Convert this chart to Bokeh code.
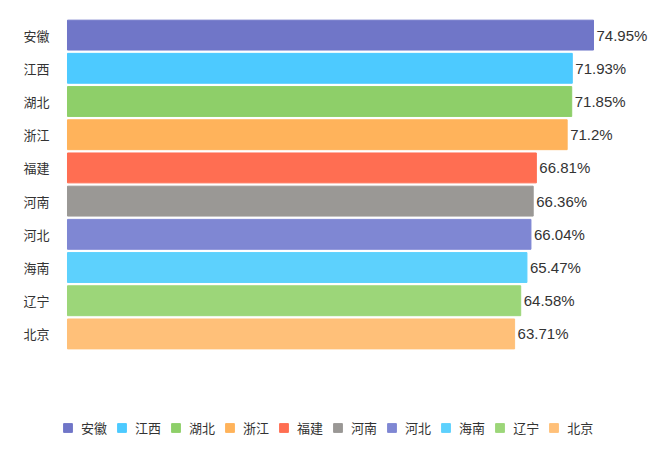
from bokeh.plotting import figure
from bokeh.models import ColumnDataSource, Range1d, FixedTicker, Legend, LegendItem
from bokeh.core.properties import value
from bokeh.embed import file_html
from bokeh.resources import INLINE

provinces = ["安徽", "江西", "湖北", "浙江", "福建", "河南", "河北", "海南", "辽宁", "北京"]
rates = [74.95, 71.93, 71.85, 71.2, 66.81, 66.36, 66.04, 65.47, 64.58, 63.71]
colors = ["#7076C8", "#4DCAFF", "#8ECF69", "#FFB35B", "#FF6E52",
          "#9A9895", "#7F87D3", "#5DD1FD", "#9CD679", "#FFC079"]
labels = [f"{v}%" for v in rates]
pos = list(range(len(provinces)))

src = ColumnDataSource(dict(name=provinces, y=pos, v=rates, c=colors, lab=labels))

W, H = 652, 447
p = figure(width=W, height=H, output_backend="svg", toolbar_location=None,
           x_range=Range1d(-0.712, 83.36), y_range=Range1d(12.42, -0.5),
           min_border_left=62, min_border_right=0, min_border_top=18, min_border_bottom=0)
p.background_fill_color = "white"
p.border_fill_color = "white"
p.outline_line_color = None
p.xgrid.visible = False
p.ygrid.visible = False
p.xaxis.visible = False

r = p.hbar(y="y", right="v", left=0, height=0.9, color="c", source=src)
p.text(x="v", y="y", text="lab", source=src, x_offset=3, text_baseline="middle",
       text_font=value("Liberation Sans"), text_font_size="15px", text_color="#333333")

ya = p.yaxis[0]
ya.ticker = FixedTicker(ticks=pos)
ya.major_label_overrides = {i: n for i, n in enumerate(provinces)}
ya.axis_line_color = None
ya.major_tick_line_color = None
ya.minor_tick_line_color = None
ya.major_label_text_font = "Noto Sans CJK SC"
ya.major_label_text_font_size = "13px"
ya.major_label_text_color = "#333333"
ya.major_label_standoff = 7

items = [LegendItem(label=n, renderers=[r], index=i) for i, n in enumerate(provinces)]
leg = Legend(items=items, orientation="horizontal", location=(0, 10),
             glyph_width=11, glyph_height=11, label_standoff=8, spacing=9,
             label_text_font="Noto Sans CJK SC", label_text_font_size="13px",
             label_text_color="#333333", border_line_color=None,
             background_fill_alpha=0, padding=0, margin=0)
p.add_layout(leg, "center")

open("out.html", "w").write(file_html(p, INLINE))
